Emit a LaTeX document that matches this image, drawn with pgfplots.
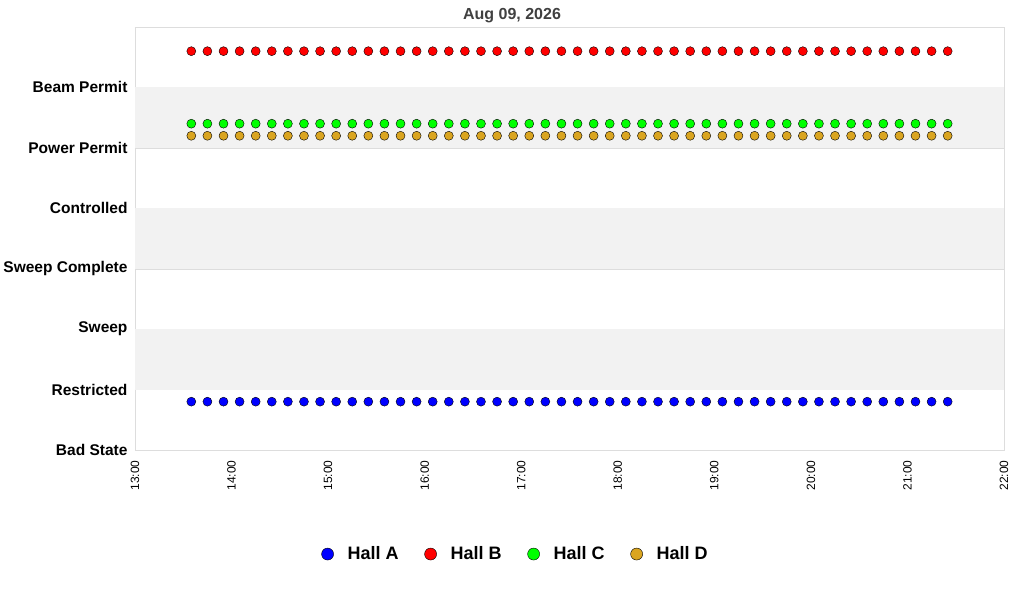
\documentclass[border=0pt]{standalone}
\usepackage{fontspec}
\setmainfont{Liberation Sans}
\usepackage{pgfplots}
\usepackage{pgfplotstable}
\pgfplotsset{compat=1.18}

\definecolor{hallA}{RGB}{0,0,255}
\definecolor{hallB}{RGB}{255,0,0}
\definecolor{hallC}{RGB}{0,255,0}
\definecolor{hallD}{RGB}{218,165,32}
\definecolor{band}{RGB}{242,242,242}
\definecolor{gridc}{RGB}{221,221,221}
\definecolor{titlec}{RGB}{64,64,64}

% time in hours, state level per hall
\pgfplotstableread{
x       A    B    C    D
13.5833 0.8  6.6  5.4  5.2
13.75   0.8  6.6  5.4  5.2
13.9167 0.8  6.6  5.4  5.2
14.0833 0.8  6.6  5.4  5.2
14.25   0.8  6.6  5.4  5.2
14.4167 0.8  6.6  5.4  5.2
14.5833 0.8  6.6  5.4  5.2
14.75   0.8  6.6  5.4  5.2
14.9167 0.8  6.6  5.4  5.2
15.0833 0.8  6.6  5.4  5.2
15.25   0.8  6.6  5.4  5.2
15.4167 0.8  6.6  5.4  5.2
15.5833 0.8  6.6  5.4  5.2
15.75   0.8  6.6  5.4  5.2
15.9167 0.8  6.6  5.4  5.2
16.0833 0.8  6.6  5.4  5.2
16.25   0.8  6.6  5.4  5.2
16.4167 0.8  6.6  5.4  5.2
16.5833 0.8  6.6  5.4  5.2
16.75   0.8  6.6  5.4  5.2
16.9167 0.8  6.6  5.4  5.2
17.0833 0.8  6.6  5.4  5.2
17.25   0.8  6.6  5.4  5.2
17.4167 0.8  6.6  5.4  5.2
17.5833 0.8  6.6  5.4  5.2
17.75   0.8  6.6  5.4  5.2
17.9167 0.8  6.6  5.4  5.2
18.0833 0.8  6.6  5.4  5.2
18.25   0.8  6.6  5.4  5.2
18.4167 0.8  6.6  5.4  5.2
18.5833 0.8  6.6  5.4  5.2
18.75   0.8  6.6  5.4  5.2
18.9167 0.8  6.6  5.4  5.2
19.0833 0.8  6.6  5.4  5.2
19.25   0.8  6.6  5.4  5.2
19.4167 0.8  6.6  5.4  5.2
19.5833 0.8  6.6  5.4  5.2
19.75   0.8  6.6  5.4  5.2
19.9167 0.8  6.6  5.4  5.2
20.0833 0.8  6.6  5.4  5.2
20.25   0.8  6.6  5.4  5.2
20.4167 0.8  6.6  5.4  5.2
20.5833 0.8  6.6  5.4  5.2
20.75   0.8  6.6  5.4  5.2
20.9167 0.8  6.6  5.4  5.2
21.0833 0.8  6.6  5.4  5.2
21.25   0.8  6.6  5.4  5.2
21.4167 0.8  6.6  5.4  5.2
}\halls

\begin{document}
\begin{tikzpicture}
\useasboundingbox (-135pt,-150pt) rectangle (889pt,450pt);
\begin{axis}[
  at={(0pt,0pt)}, anchor=south west,
  scale only axis, width=869pt, height=423pt,
  xmin=13, xmax=22, ymin=0, ymax=7,
  axis line style={gridc},
  xtick={13,14,...,22},
  xticklabels={13:00,14:00,15:00,16:00,17:00,18:00,19:00,20:00,21:00,22:00},
  ytick={0,...,7},
  yticklabels={Bad State,Restricted,Sweep,Sweep Complete,Controlled,Power Permit,Beam Permit,},
  major tick length=0pt,
  ymajorgrids, major grid style={gridc},
  x tick label style={rotate=90, anchor=east, font=\fontsize{12}{14}\selectfont, xshift=-7pt},
  y tick label style={font=\fontsize{15.5}{18}\selectfont\bfseries, xshift=-4pt},
  legend columns=4,
  legend style={at={(0.438,-0.246)}, anchor=center, draw=none,
    font=\fontsize{18}{21}\selectfont\bfseries,
    /tikz/every odd column/.append style={column sep=12pt},
    /tikz/every even column/.append style={column sep=24pt}},
  legend image code/.code={\draw[#1, mark size=6pt] plot coordinates {(0pt,0pt)};},
]
\fill[band] (axis cs:13,1) rectangle (axis cs:22,2);
\fill[band] (axis cs:13,3) rectangle (axis cs:22,4);
\fill[band] (axis cs:13,5) rectangle (axis cs:22,6);
\addplot[only marks, mark=*, mark size=4.5pt, draw=black, fill=hallA] table[x=x, y=A] {\halls};
\addlegendentry{Hall A}
\addplot[only marks, mark=*, mark size=4.5pt, draw=black, fill=hallB] table[x=x, y=B] {\halls};
\addlegendentry{Hall B}
\addplot[only marks, mark=*, mark size=4.5pt, draw=black, fill=hallC] table[x=x, y=C] {\halls};
\addlegendentry{Hall C}
\addplot[only marks, mark=*, mark size=4.5pt, draw=black, fill=hallD] table[x=x, y=D] {\halls};
\addlegendentry{Hall D}
\end{axis}
\node[text=titlec, font=\fontsize{16}{19}\selectfont\bfseries] at (377pt,434pt) {Aug 09, 2026};
\end{tikzpicture}
\end{document}
